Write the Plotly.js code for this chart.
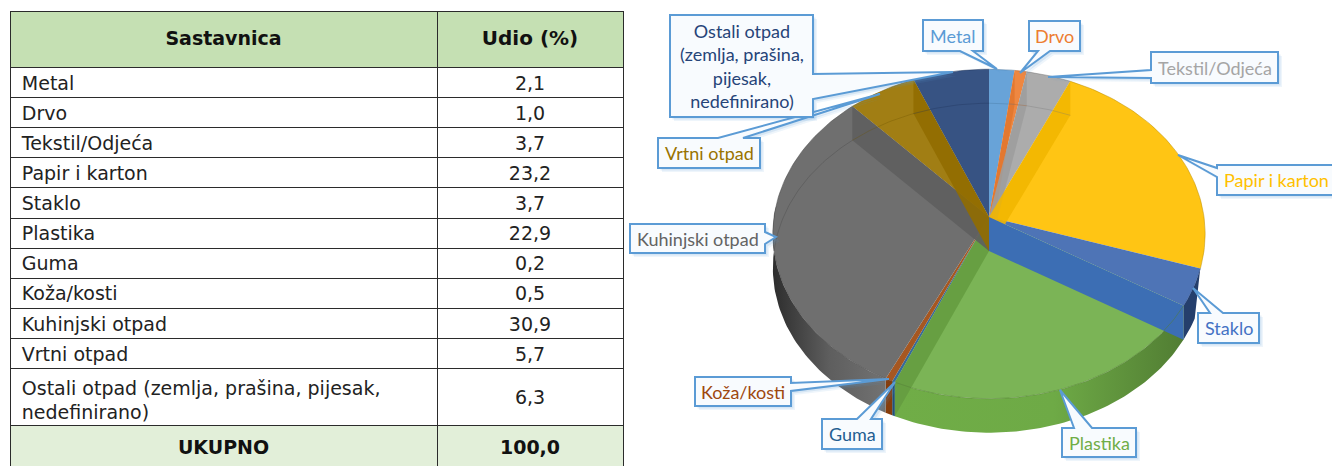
<!DOCTYPE html>
<html>
<head>
<meta charset="utf-8">
<script src="https://cdn.plot.ly/plotly-3.0.1.min.js"></script>
<style>html,body{margin:0;padding:0;background:#fff}#chart{width:1332px;height:466px}</style>
</head>
<body>
<div id="chart"></div>
<script>
// ---- data ----
const categories = ['Metal','Drvo','Tekstil/Odjeća','Papir i karton','Staklo','Plastika','Guma','Koža/kosti','Kuhinjski otpad','Vrtni otpad','Ostali otpad (zemlja, prašina, pijesak, nedefinirano)'];
const shares = [2.1,1.0,3.7,23.2,3.7,22.9,0.2,0.5,30.9,5.7,6.3];
const totalLabel = 'UKUPNO';
const totalValue = 100.0;
const tableHeader = ['Sastavnica','Udio (%)'];
const tableCategories = ['Metal','Drvo','Tekstil/Odjeća','Papir i karton','Staklo','Plastika','Guma','Koža/kosti','Kuhinjski otpad','Vrtni otpad','Ostali otpad (zemlja, prašina, pijesak,<br>\u2009nedefinirano)'];
const sliceColors = ['#5B9BD5','#ED7D31','#A5A5A5','#FFC000','#4472C4','#70AD47','#255E91','#9E480E','#636363','#997300','#264478'];

// ---- pie projection (perspective disc) ----
const CX = 989, CY = 217, RX = 215, RY = 163, K = 0.103, DEPTH = 34;
function pt(frac, r, dy) {
  const a = 2 * Math.PI * frac, x = r * Math.sin(a), y = r * Math.cos(a), w = 1 + K * y;
  return [CX + RX * x / w, CY - RY * y / w + (dy || 0)];
}
function arc(f0, f1, dy) {
  const n = Math.max(2, Math.ceil((f1 - f0) * 300)), out = [];
  for (let i = 0; i <= n; i++) out.push(pt(f0 + (f1 - f0) * i / n, 1, dy));
  return out;
}
function rgb(hex) { return [1, 3, 5].map(i => parseInt(hex.substr(i, 2), 16)); }
function shade(hex, m, a) {
  const v = rgb(hex).map(c => Math.min(255, Math.round(c * m)));
  return 'rgba(' + v.join(',') + ',' + (a === undefined ? 1 : a) + ')';
}
function lighten(hex, t) {
  return 'rgb(' + rgb(hex).map(c => Math.round(c + (255 - c) * t)).join(',') + ')';
}
function poly(points, name, extra) {
  return Object.assign({
    type: 'scatter', mode: 'lines', fill: 'toself', name: name, hoverinfo: 'name', showlegend: false,
    x: points.map(p => p[0]), y: points.map(p => p[1]), line: { width: 0 }
  }, extra);
}
function stroke(points, name, color, width) {
  return { type: 'scatter', mode: 'lines', name: name, hoverinfo: 'skip', showlegend: false,
    x: points.map(p => p[0]), y: points.map(p => p[1]), line: { color: color, width: width } };
}

const sum = shares.reduce((a, b) => a + b, 0);
const slices = [];
shares.reduce((acc, v, i) => { slices.push({ name: categories[i], f0: acc / sum, f1: (acc + v) / sum, c: sliceColors[i] }); return acc + v; }, 0);

const tops = [], walls = [], outer = [], edges = [];
const FRONT0 = 0.30, FRONT1 = 0.76;
const apex = pt(0, 0), apexLow = pt(0, 0, DEPTH);
slices.forEach(s => {
  tops.push(poly([apex, ...arc(s.f0, s.f1), apex], s.name, { fillcolor: lighten(s.name === 'Staklo' ? '#3F68B0' : s.c, 0.08) }));
  [s.f0, s.f1].forEach((f, j) => {
    const rightSide = f > 0 && f < 0.5;
    const ownSlice = (j === 0 && rightSide) || (j === 1 && !rightSide && f < 1);
    const rim = pt(f, 1), low = pt(f, 1, DEPTH), wall = [apex, rim, low, apexLow, apex];
    if (s.name === 'Staklo' && j === 1) {
      walls.push(poly(wall, s.name, { fillcolor: '#3C6EB4' }));
    } else if (s.name === 'Plastika' && j === 1) {
      walls.push(poly(wall, s.name, { fillcolor: shade(s.c, 0.9, 0.9) }));
    } else if (ownSlice && s.name !== 'Plastika' && s.name !== 'Staklo' && s.f1 - s.f0 > 0.008) {
      walls.push(poly(wall, s.name, { fillcolor: shade(s.c, 0.95, 0.9) }));
    }
  });
  const a0 = Math.max(s.f0, FRONT0), a1 = Math.min(s.f1, FRONT1);
  if (a1 > a0) {
    const top = arc(a0, a1), lowStart = s.name === 'Staklo' ? a0 + 0.015 : a0, low = arc(lowStart, a1, DEPTH).reverse();
    const extra = s.name === 'Plastika'
      ? { fillgradient: { type: 'horizontal', colorscale: [[0, shade(s.c, 1)], [0.55, shade(s.c, 0.98)], [1, shade(s.c, 0.72)]] } }
      : s.name === 'Kuhinjski otpad'
        ? { fillgradient: { type: 'horizontal', colorscale: [[0, shade(s.c, 0.45)], [0.5, shade(s.c, 0.95)], [1, shade(s.c, 1.15)]] } }
        : { fillcolor: shade(s.c, s.name === 'Staklo' ? 0.55 : 0.85) };
    outer.push(poly([...top, ...low, top[0]], s.name, extra));
  }
  edges.push(stroke(arc(s.f0, s.f1), s.name, shade(s.c, 0.72, 0.7), 0.7));
  if (s.f0 > 0.75 || s.f1 < 0.28) edges.push(stroke(arc(s.f0, s.f1, DEPTH), s.name, shade(s.c, 0.7, 0.4), 0.8));
  if (s.f1 > 0.75 && s.f0 < 0.75) edges.push(stroke(arc(0.75, s.f1, DEPTH), s.name, shade(s.c, 0.7, 0.45), 0.8));
});

// ---- table ----
const comma = v => v.toFixed(1).replace('.', ',');
const FONT_T = 'DejaVu Sans, Verdana, sans-serif';
const GRID = '#2b2b2b';
// table text is top-aligned: a tiny first line, spaced by the base font size, centres the real line
const raised = (text, px) => '<span style="font-size:1px">\u00A0</span><br><span style="font-size:' + px + 'px">' + text + '</span>';
const valueTexts = shares.map((v, i) => i === shares.length - 1 ? raised(comma(v), 19) : comma(v));
const tableBody = {
  type: 'table',
  domain: { x: [10 / 1332, 623.5 / 1332], y: [1 - 425.5 / 466, 1 - 11.5 / 466] },
  columnwidth: [427, 186],
  header: {
    values: [raised('<b>' + tableHeader[0] + '</b>', 19), raised('<b>' + tableHeader[1] + '</b>', 20)],
    height: 56, align: 'center',
    fill: { color: '#C5E0B3' }, line: { color: GRID, width: 1 },
    font: { family: FONT_T, size: 19, color: '#111' }
  },
  cells: {
    values: [tableCategories.map(t => '\u2009' + t), valueTexts],
    height: 30.1, align: ['left', 'center'],
    fill: { color: '#fff' }, line: { color: GRID, width: 1 },
    font: { family: FONT_T, size: [19, shares.map((v, i) => i === shares.length - 1 ? 20 : 19)], color: '#222' }
  }
};
const tableTotal = {
  type: 'table',
  domain: { x: [10 / 1332, 623.5 / 1332], y: [0, 1 - 425 / 466] },
  columnwidth: [427, 186],
  header: {
    values: [raised('<b>' + totalLabel + '</b>', 19), raised('<b>' + comma(totalValue) + '</b>', 19)],
    height: 41, align: 'center',
    fill: { color: '#E2EFD9' }, line: { color: GRID, width: 1 },
    font: { family: FONT_T, size: 15, color: '#111' }
  },
  cells: { values: [[], []], height: 1, line: { width: 0 } }
};

// ---- callouts: box corners, pointer base and tip, label lines ----
const callouts = [
  { name: 'Ostali', t: 'Ostali otpad<br>(zemlja, prašina,<br>pijesak,<br>nedefinirano)', c: 10, box: [670, 15, 813, 117], side: 'r', base: [74, 99], tip: [953, 72] },
  { name: 'Metal', t: 'Metal', c: 0, box: [923, 20, 983, 51], side: 'b', base: [960, 973], tip: [997, 69] },
  { name: 'Drvo', t: 'Drvo', c: 1, box: [1029, 21, 1080, 51], side: 'b', base: [1038, 1050], tip: [1020, 73] },
  { name: 'Tekstil', t: 'Tekstil/Odjeća', c: 2, box: [1151, 52, 1278, 83], side: 'l', base: [70, 78], tip: [1048, 77] },
  { name: 'Papir', t: 'Papir i karton', c: 3, box: [1217, 165, 1337, 195], side: 'l', base: [168, 177], tip: [1178, 155] },
  { name: 'Staklo', t: 'Staklo', c: 4, box: [1198, 313, 1259, 343], side: 't', base: [1210, 1223], tip: [1193, 288] },
  { name: 'Plastika', t: 'Plastika', c: 5, box: [1062, 428, 1136, 457], side: 't', base: [1074, 1092], tip: [1060, 390] },
  { name: 'Guma', t: 'Guma', c: 6, box: [822, 419, 882, 449], side: 't', base: [857, 871], tip: [895, 382] },
  { name: 'Koza', t: 'Koža/kosti', c: 7, box: [695, 377, 791, 406], side: 'r', base: [383, 391], tip: [889, 379] },
  { name: 'Kuhinjski', t: 'Kuhinjski otpad', c: 8, box: [630, 224, 765, 253], side: 'r', base: [232, 244], tip: [776, 237] },
  { name: 'Vrtni', t: 'Vrtni otpad', c: 9, box: [658, 138, 760, 168], side: 't', base: [718, 743], tip: [880, 94] }
];
const drawOrder = ['Vrtni','Ostali','Metal','Drvo','Tekstil','Papir','Staklo','Plastika','Guma','Koza','Kuhinjski'];
function calloutPath(o) {
  const [x0, y0, x1, y1] = o.box, [b0, b1] = o.base, [tx, ty] = o.tip;
  let p;
  if (o.side === 'r') p = [[x0,y0],[x1,y0],[x1,b0],[tx,ty],[x1,b1],[x1,y1],[x0,y1]];
  if (o.side === 'l') p = [[x0,y0],[x1,y0],[x1,y1],[x0,y1],[x0,b1],[tx,ty],[x0,b0]];
  if (o.side === 'b') p = [[x0,y0],[x1,y0],[x1,y1],[b1,y1],[tx,ty],[b0,y1],[x0,y1]];
  if (o.side === 't') p = [[x0,y0],[b0,y0],[tx,ty],[b1,y0],[x1,y0],[x1,y1],[x0,y1]];
  return p;
}
const toPath = (p, dx, dy) => 'M' + p.map(q => (q[0] + dx) + ',' + (q[1] + dy)).join(' L') + ' Z';
const shapes = [], annotations = [];
drawOrder.forEach(n => {
  const o = callouts.find(c => c.name === n), p = calloutPath(o);
  [[4, 0.10], [2.5, 0.16]].forEach(([off, a]) =>
    shapes.push({ type: 'path', layer: 'above', path: toPath(p, off, off), fillcolor: 'rgba(91,155,213,' + a + ')', line: { width: 0 } }));
  shapes.push({ type: 'path', layer: 'above', path: toPath(p, 0, 0), fillcolor: '#F8FBFE', line: { color: '#5B9BD5', width: 2 } });
});
callouts.forEach(o => {
  annotations.push({
    xref: 'x', yref: 'y', x: (o.box[0] + o.box[2]) / 2 - (o.name === 'Papir' ? 1 : 0), y: (o.box[1] + o.box[3]) / 2,
    text: o.t, showarrow: false, align: 'center', xanchor: 'center', yanchor: 'middle',
    font: { family: 'Lato, Carlito, sans-serif', size: 18, color: sliceColors[o.c] }
  });
});

const layout = {
  width: 1332, height: 466,
  margin: { l: 0, r: 0, t: 0, b: 0 },
  paper_bgcolor: '#fff', plot_bgcolor: '#fff', showlegend: false,
  xaxis: { range: [0, 1332], visible: false, fixedrange: true },
  yaxis: { range: [466, 0], visible: false, fixedrange: true },
  shapes, annotations
};
Plotly.newPlot('chart', [tableBody, tableTotal, ...outer, ...tops, ...walls, ...edges], layout, { displayModeBar: false });
</script>
</body>
</html>
